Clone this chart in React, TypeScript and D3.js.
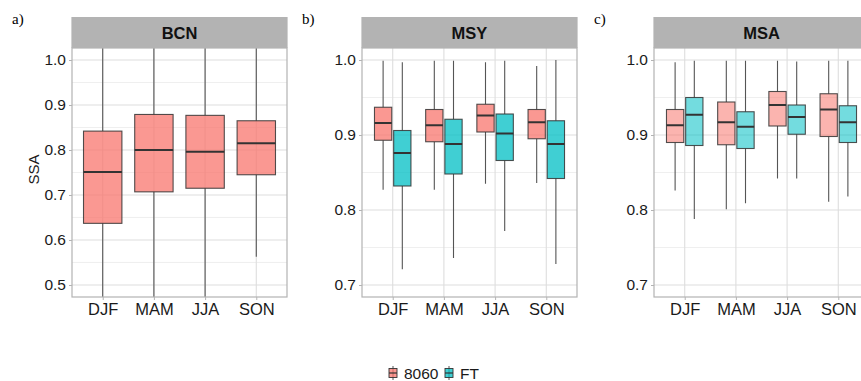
import { useRef, useEffect } from 'react';
import * as d3 from 'd3';

// seasons on the x axis, groups for the fill
const seasons = ['DJF', 'MAM', 'JJA', 'SON'];
const groups = ['8060', 'FT'];

// [lower whisker, q1, median, q3, upper whisker]
const bcn8060 = [
    [0.45, 0.637, 0.751, 0.842, 1.05],
    [0.45, 0.707, 0.8, 0.879, 1.05],
    [0.45, 0.715, 0.796, 0.877, 1.05],
    [0.563, 0.745, 0.815, 0.865, 1.05],
];
const msy8060 = [
    [0.827, 0.893, 0.916, 0.937, 0.999],
    [0.827, 0.891, 0.913, 0.934, 0.999],
    [0.835, 0.904, 0.926, 0.941, 0.997],
    [0.836, 0.895, 0.917, 0.934, 0.992],
];
const msyFT = [
    [0.721, 0.832, 0.876, 0.906, 0.997],
    [0.736, 0.848, 0.888, 0.921, 0.999],
    [0.772, 0.866, 0.902, 0.928, 0.999],
    [0.728, 0.842, 0.888, 0.919, 1.0],
];
const msa8060 = [
    [0.826, 0.89, 0.913, 0.934, 0.997],
    [0.801, 0.887, 0.917, 0.944, 0.999],
    [0.842, 0.912, 0.94, 0.958, 0.999],
    [0.811, 0.898, 0.934, 0.955, 0.999],
];
const msaFT = [
    [0.788, 0.886, 0.927, 0.95, 0.999],
    [0.809, 0.882, 0.911, 0.931, 0.999],
    [0.842, 0.901, 0.924, 0.94, 0.998],
    [0.818, 0.89, 0.917, 0.939, 0.999],
];

const ticksA = [0.5, 0.6, 0.7, 0.8, 0.9, 1.0];
const minorA = [0.55, 0.65, 0.75, 0.85, 0.95];
const ticksBC = [0.7, 0.8, 0.9, 1.0];
const minorBC = [0.75, 0.85, 0.95];

const colors: Record<string, string> = { '8060': '#F8766D', FT: '#00BFC4' };

type Panel = {
    tag: string;
    title: string;
    left: number;
    domain: [number, number];
    ticks: number[];
    minor: number[];
    series: { group: string; stats: number[][] }[];
    alpha: number;
};

const panels: Panel[] = [
    { tag: 'a)', title: 'BCN', left: 72, domain: [0.4733, 1.0267], ticks: ticksA, minor: minorA,
      series: [{ group: '8060', stats: bcn8060 }], alpha: 0.75 },
    { tag: 'b)', title: 'MSY', left: 362, domain: [0.684, 1.016], ticks: ticksBC, minor: minorBC,
      series: [{ group: '8060', stats: msy8060 }, { group: 'FT', stats: msyFT }], alpha: 0.75 },
    { tag: 'c)', title: 'MSA', left: 654, domain: [0.684, 1.016], ticks: ticksBC, minor: minorBC,
      series: [{ group: '8060', stats: msa8060 }, { group: 'FT', stats: msaFT }], alpha: 0.55 },
];

export default function App() {
    const svgRef = useRef<SVGSVGElement>(null);

    useEffect(() => {
        if (!svgRef.current) return;
        const width = 861;
        const height = 381;
        const svg = d3.select(svgRef.current);
        svg.selectAll('*').remove();

        const font = 'Liberation Sans, Arial, Helvetica, sans-serif';
        const top = 48;
        const bottom = 297;
        const panelW = 215;

        panels.forEach((p, pi) => {
            const g = svg.append('g');
            const x0 = p.left;
            const x1 = p.left + panelW;

            const x = d3.scalePoint<string>().domain(seasons).range([x0, x1]).padding(0.6);
            const step = x.step();
            const y = d3.scaleLinear().domain(p.domain).range([bottom, top]);

            const clipId = `clip${pi}`;
            svg.append('defs').append('clipPath').attr('id', clipId)
                .append('rect').attr('x', x0).attr('y', top).attr('width', panelW).attr('height', bottom - top);

            // background
            g.append('rect').attr('x', x0).attr('y', top).attr('width', panelW).attr('height', bottom - top)
                .attr('fill', '#fff');

            // grid
            g.selectAll('.minor').data(p.minor).enter().append('line')
                .attr('x1', x0).attr('x2', x1).attr('y1', d => y(d)).attr('y2', d => y(d))
                .attr('stroke', '#ebebeb').attr('stroke-width', 0.8);
            g.selectAll('.major').data(p.ticks).enter().append('line')
                .attr('x1', x0).attr('x2', x1).attr('y1', d => y(d)).attr('y2', d => y(d))
                .attr('stroke', '#dedede').attr('stroke-width', 1.1);
            g.selectAll('.vgrid').data(seasons).enter().append('line')
                .attr('x1', d => x(d)!).attr('x2', d => x(d)!).attr('y1', top).attr('y2', bottom)
                .attr('stroke', '#dedede').attr('stroke-width', 1.1);

            // boxes
            const sub = d3.scaleBand<string>()
                .domain(p.series.map(s => s.group))
                .range([-0.375 * step, 0.375 * step]);
            const bw = p.series.length > 1 ? sub.bandwidth() * 0.9 : sub.bandwidth();
            const plot = g.append('g').attr('clip-path', `url(#${clipId})`);

            p.series.forEach(s => {
                s.stats.forEach((st, i) => {
                    const cx = x(seasons[i])! + sub(s.group)! + sub.bandwidth() / 2;
                    const [lo, q1, med, q3, hi] = st;
                    plot.append('line').attr('x1', cx).attr('x2', cx).attr('y1', y(hi)).attr('y2', y(q3))
                        .attr('stroke', '#555').attr('stroke-width', 1.1);
                    plot.append('line').attr('x1', cx).attr('x2', cx).attr('y1', y(q1)).attr('y2', y(lo))
                        .attr('stroke', '#555').attr('stroke-width', 1.1);
                    plot.append('rect')
                        .attr('x', cx - bw / 2).attr('width', bw)
                        .attr('y', y(q3)).attr('height', y(q1) - y(q3))
                        .attr('fill', colors[s.group]).attr('fill-opacity', p.alpha)
                        .attr('stroke', '#333').attr('stroke-opacity', 0.85).attr('stroke-width', 1.1);
                    plot.append('line').attr('x1', cx - bw / 2).attr('x2', cx + bw / 2)
                        .attr('y1', y(med)).attr('y2', y(med))
                        .attr('stroke', '#333').attr('stroke-width', 2);
                });
            });

            // border
            g.append('rect').attr('x', x0).attr('y', top).attr('width', panelW).attr('height', bottom - top)
                .attr('fill', 'none').attr('stroke', '#b3b3b3').attr('stroke-width', 1.2);

            // strip
            g.append('rect').attr('x', x0 - 0.6).attr('y', 17).attr('width', panelW + 1.2).attr('height', top - 17)
                .attr('fill', '#b3b3b3');
            g.append('text').attr('x', (x0 + x1) / 2).attr('y', 38.5).attr('text-anchor', 'middle')
                .attr('font-family', font).attr('font-weight', 'bold').attr('font-size', 16.5)
                .attr('fill', '#111').text(p.title);

            // y axis
            const ya = g.append('g').attr('transform', `translate(${x0},0)`)
                .call(d3.axisLeft(y).tickValues(p.ticks).tickFormat(d3.format('.1f')).tickSize(3).tickPadding(3));
            ya.select('.domain').remove();
            ya.selectAll('line').attr('stroke', '#b3b3b3');
            ya.selectAll('text').attr('font-family', font).attr('font-size', 15.5).attr('fill', '#1a1a1a');

            // x axis
            const xa = g.append('g').attr('transform', `translate(0,${bottom})`)
                .call(d3.axisBottom(x).tickSize(3).tickPadding(3));
            xa.select('.domain').remove();
            xa.selectAll('line').attr('stroke', '#b3b3b3');
            xa.selectAll('text').attr('font-family', font).attr('font-size', 16.5).attr('fill', '#1a1a1a');

            // panel tag
            svg.append('text').attr('x', x0 - 60).attr('y', 24)
                .attr('font-family', 'Liberation Serif, Times New Roman, serif').attr('font-size', 15)
                .attr('fill', '#000').text(p.tag);
        });

        // y label
        svg.append('text')
            .attr('transform', `translate(39,${(top + bottom) / 2 - 3}) rotate(-90)`)
            .attr('text-anchor', 'middle')
            .attr('font-family', font).attr('font-size', 15).attr('fill', '#1a1a1a')
            .text('SSA');

        // legend
        const legend = svg.append('g');
        const keys = [
            { group: groups[0], kx: 393, tx: 404 },
            { group: groups[1], kx: 449, tx: 460 },
        ];
        keys.forEach(k => {
            const ly = 373;
            legend.append('line').attr('x1', k.kx).attr('x2', k.kx).attr('y1', ly - 7).attr('y2', ly + 7)
                .attr('stroke', '#555').attr('stroke-width', 1);
            legend.append('rect').attr('x', k.kx - 4).attr('y', ly - 4.5).attr('width', 8).attr('height', 9)
                .attr('fill', colors[k.group]).attr('fill-opacity', 0.75)
                .attr('stroke', '#333').attr('stroke-width', 0.9);
            legend.append('line').attr('x1', k.kx - 4).attr('x2', k.kx + 4).attr('y1', ly).attr('y2', ly)
                .attr('stroke', '#333').attr('stroke-width', 1.2);
            legend.append('text').attr('x', k.tx).attr('y', ly + 5.5)
                .attr('font-family', font).attr('font-size', 15.5).attr('fill', '#1a1a1a')
                .text(k.group);
        });

        svg.attr('width', width).attr('height', height);
    }, []);

    return (
        <div style={{ position: 'absolute', left: 0, top: 0, background: '#fff' }}>
            <svg ref={svgRef} width={861} height={381} style={{ display: 'block' }} />
        </div>
    );
}
